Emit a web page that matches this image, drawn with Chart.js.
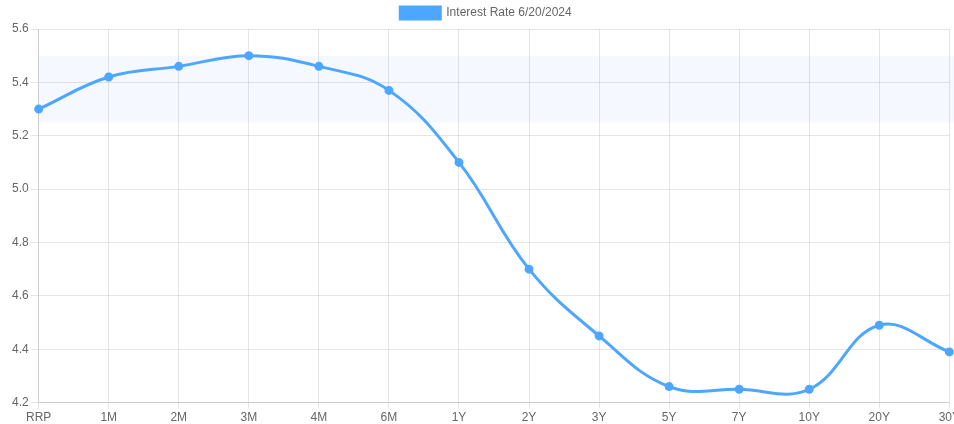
<!DOCTYPE html>
<html>
<head>
<meta charset="utf-8">
<script src="https://cdn.jsdelivr.net/npm/chart.js@4/dist/chart.umd.min.js"></script>
<style>
  html, body { margin: 0; padding: 0; background: #fff; overflow: hidden; }
  #wrap { position: relative; width: 962px; height: 427px; }
</style>
</head>
<body>
<div id="wrap"><canvas id="yc"></canvas></div>
<script>
// Treasury yield curve, 6/20/2024
const maturities = ['RRP', '1M', '2M', '3M', '4M', '6M', '1Y', '2Y', '3Y', '5Y', '7Y', '10Y', '20Y', '30Y'];
const rates = [5.30, 5.42, 5.46, 5.50, 5.46, 5.37, 5.10, 4.70, 4.45, 4.26, 4.25, 4.25, 4.49, 4.39];
const seriesLabel = 'Interest Rate 6/20/2024';
// Fed funds target range, shaded behind the curve
const targetRange = [5.25, 5.50];
const yTicks = [4.2, 4.4, 4.6, 4.8, 5.0, 5.2, 5.4, 5.6];

const lineColor = 'rgb(77,166,255)';

const rangeBand = {
  id: 'rangeBand',
  beforeDatasetsDraw(chart) {
    const { ctx, chartArea, scales } = chart;
    const yTop = scales.y.getPixelForValue(targetRange[1]);
    const yBot = scales.y.getPixelForValue(targetRange[0]);
    ctx.save();
    ctx.fillStyle = 'rgba(77,150,255,0.06)';
    ctx.fillRect(chartArea.left, yTop, chartArea.right - chartArea.left + 10, yBot - yTop);
    ctx.restore();
  }
};

Chart.defaults.font.family = "'Liberation Sans', Arial, sans-serif";
Chart.defaults.font.size = 12;
Chart.defaults.color = '#666';

new Chart(document.getElementById('yc'), {
  type: 'line',
  data: {
    labels: maturities,
    datasets: [{
      label: seriesLabel,
      data: rates,
      borderColor: lineColor,
      backgroundColor: lineColor,
      borderWidth: 3,
      pointRadius: 3,
      pointHoverRadius: 4,
      tension: 0.4,
      fill: false
    }]
  },
  options: {
    responsive: true,
    maintainAspectRatio: false,
    animation: false,
    layout: { padding: { left: 10, top: 0, right: 0, bottom: 0 } },
    plugins: {
      legend: {
        labels: { boxWidth: 40, boxHeight: 12, padding: 7, color: '#666' }
      },
      tooltip: { enabled: false }
    },
    scales: {
      x: {
        grid: { color: 'rgba(0,0,0,0.1)', tickLength: 6 },
        ticks: { color: '#666', maxRotation: 0, padding: 2 }
      },
      y: {
        min: 4.2,
        max: 5.6,
        afterBuildTicks(scale) { scale.ticks = yTicks.map(v => ({ value: v })); },
        grid: { color: 'rgba(0,0,0,0.1)', tickLength: 8 },
        ticks: { color: '#666', padding: 2, callback: v => v.toFixed(1) }
      }
    }
  },
  plugins: [rangeBand]
});
</script>
</body>
</html>
